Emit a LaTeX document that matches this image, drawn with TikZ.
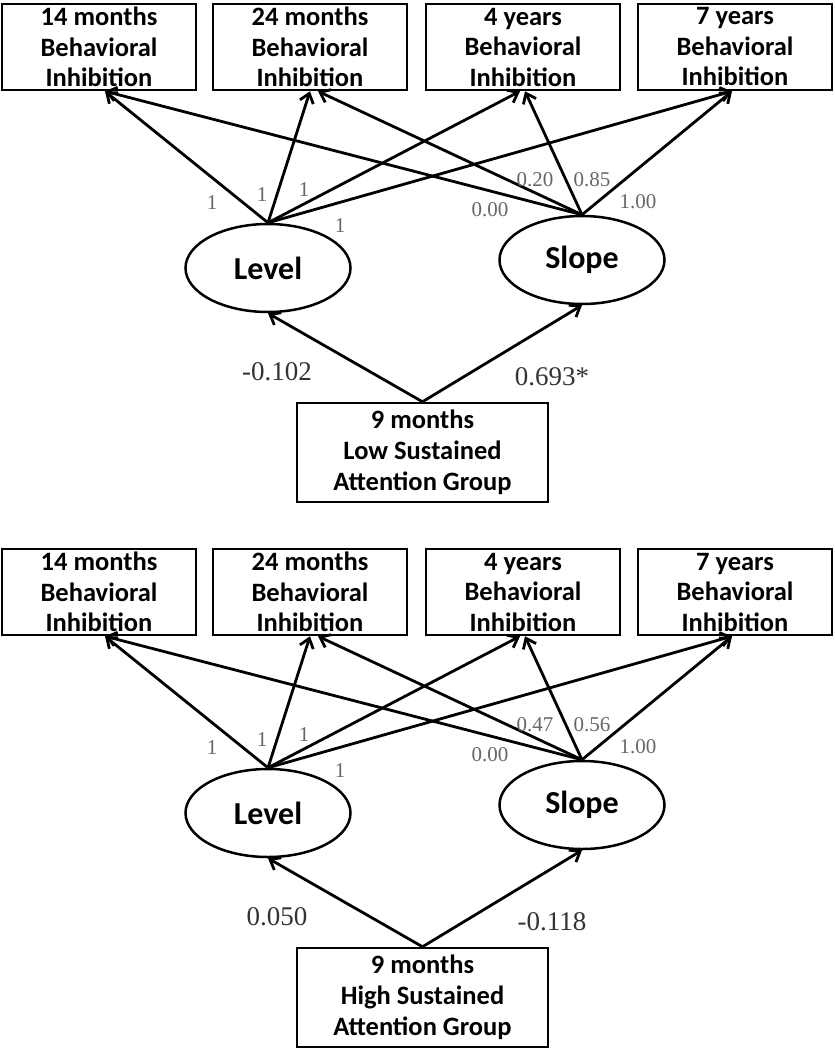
\documentclass[tikz,border=0pt]{standalone}
\usepackage{fontspec}
\setmainfont{Carlito}
\newfontfamily\lblserif{Liberation Serif}
\usetikzlibrary{arrows.meta,shapes.geometric}
\tikzset{
  bibox/.style={draw, line width=2.5pt, minimum width=194pt, minimum height=86pt, inner sep=0pt, align=center,
    font=\bfseries\fontsize{26.5}{30.5}\selectfont},
  grpbox/.style={draw, line width=2.5pt, minimum width=251pt, minimum height=99pt, inner sep=0pt, align=center,
    font=\bfseries\fontsize{26.5}{31}\selectfont},
  latent/.style={draw, ellipse, line width=2.5pt, minimum width=165pt, minimum height=88pt, inner sep=0pt,
    font=\bfseries\fontsize{32}{36}\selectfont},
  path/.style={line width=2.8pt, -{Straight Barb[length=9pt,width=14pt,line width=2.8pt]}},
  load/.style={font=\lblserif\fontsize{21}{23}\selectfont, text=black!60},
  reg/.style={font=\lblserif\fontsize{27}{30}\selectfont, text=black!80},
}
\newcommand{\sempanel}[7]{%
\begin{scope}[yshift=-#2pt]
  \node[bibox] (a#1) at (99,47) {14 months\\Behavioral\\Inhibition};
  \node[bibox] (b#1) at (310,47) {24 months\\Behavioral\\Inhibition};
  \node[bibox] (c#1) at (523,47) {4 years\\Behavioral\\Inhibition};
  \node[bibox] (d#1) at (735,47) {7 years\\Behavioral\\Inhibition};
  \node[latent] (lev#1) at (268,268) {Level};
  \node[latent] (slo#1) at (582,260) {Slope};
  \node[grpbox] (g#1) at (422.5,452.5) {9 months\\#3 Sustained\\Attention Group};
  \draw[path] (lev#1.north) -- ([xshift=6pt]a#1.south);
  \draw[path] (lev#1.north) -- ([xshift=0pt]b#1.south);
  \draw[path] (lev#1.north) -- ([xshift=-3pt]c#1.south);
  \draw[path] (lev#1.north) -- ([xshift=-3pt]d#1.south);
  \draw[path] (slo#1.north) -- ([xshift=6pt]a#1.south);
  \draw[path] (slo#1.north) -- ([xshift=8pt]b#1.south);
  \draw[path] (slo#1.north) -- ([xshift=2pt]c#1.south);
  \draw[path] (slo#1.north) -- ([xshift=-3pt]d#1.south);
  \draw[path] (g#1.north) -- (lev#1.south);
  \draw[path] (g#1.north) -- (slo#1.south);
  \node[load] (l1#1) at (212,203) {1};
  \node[load] (l2#1) at (262,195) {1};
  \node[load] (l3#1) at (304,190) {1};
  \node[load] (l4#1) at (340,226) {1};
  \node[load] (s1#1) at (490,210) {0.00};
  \node[load] (s2#1) at (535,180) {#4};
  \node[load] (s3#1) at (592,180) {#5};
  \node[load] (s4#1) at (638,202) {1.00};
  \node[reg] (r1#1) at (277,372) {#6};
  \node[reg] (r2#1) at (552,377) {#7};
\end{scope}}
\begin{document}
\begin{tikzpicture}[x=1pt,y=-1pt]
  \useasboundingbox (0,0) rectangle (835,1050);
  \sempanel{T}{0}{Low}{0.20}{0.85}{-0.102}{0.693*}
  \sempanel{B}{545}{High}{0.47}{0.56}{0.050}{-0.118}
\end{tikzpicture}
\end{document}
